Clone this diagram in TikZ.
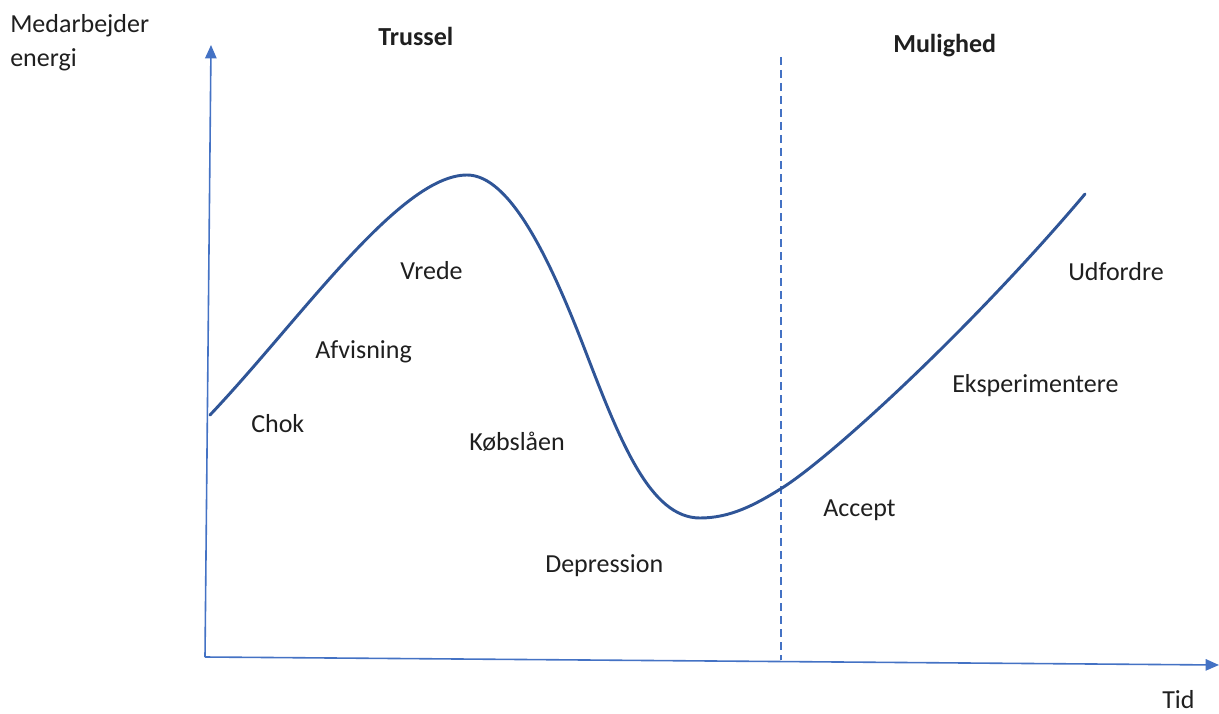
\documentclass[tikz,border=0pt]{standalone}
\usepackage{fontspec}
\setmainfont{Carlito}
\usetikzlibrary{arrows.meta}
\definecolor{axisblue}{HTML}{4472C4}
\definecolor{curveblue}{HTML}{2F5597}
\begin{document}
\begin{tikzpicture}[x=0.75pt,y=-0.75pt,
  axisline/.style={draw=axisblue,line width=1.2pt,-{Triangle[length=10pt,width=8.5pt]}},
  divider/.style={draw=axisblue,line width=1.1pt,dash pattern=on 6pt off 3.75pt},
  energycurve/.style={draw=curveblue,line width=2.2pt,line cap=round},
  lbl/.style={anchor=base west,inner sep=0pt,font=\fontsize{19.5}{25}\selectfont,text=black!88},
  head/.style={lbl,font=\fontsize{19.5}{25}\selectfont\bfseries}]
\useasboundingbox (0,0) rectangle (1219,713);

% axes
\coordinate (origin) at (205,657);
\coordinate (ytip) at (211,45);
\coordinate (xtip) at (1219,665);
\draw[axisline] (origin) -- (ytip);
\draw[axisline] (origin) -- (xtip);

% boundary between the two phases
\coordinate (divtop) at (781,57);
\coordinate (divbot) at (781,660);
\draw[divider] (divtop) -- (divbot);

% energy curve
\draw[energycurve] (210,415)
  .. controls (300,320) and (400,175) .. (467,175)
  .. controls (510,175) and (550,259) .. (585,350)
  .. controls (620,441) and (650,518) .. (700,518)
  .. controls (730,518) and (755,505) .. (782,488)
  .. controls (830,458) and (970,330) .. (1085,194);

% axis titles
\node[lbl] (ylab1) at (10,33) {Medarbejder};
\node[lbl] (ylab2) at (10,67) {energi};
\node[lbl] (xlab) at (1162,708) {Tid};

% phase headings
\node[head] (threat) at (378,46) {Trussel};
\node[head] (chance) at (893,53) {Mulighed};

% stages
\node[lbl] (chok) at (251,432) {Chok};
\node[lbl] (afv) at (315,358) {Afvisning};
\node[lbl] (vrede) at (400,279) {Vrede};
\node[lbl] (kob) at (469,450) {Købslåen};
\node[lbl] (dep) at (545,572) {Depression};
\node[lbl] (acc) at (823,516) {Accept};
\node[lbl] (eks) at (952,392) {Eksperimentere};
\node[lbl] (udf) at (1068,280) {Udfordre};
\end{tikzpicture}
\end{document}
